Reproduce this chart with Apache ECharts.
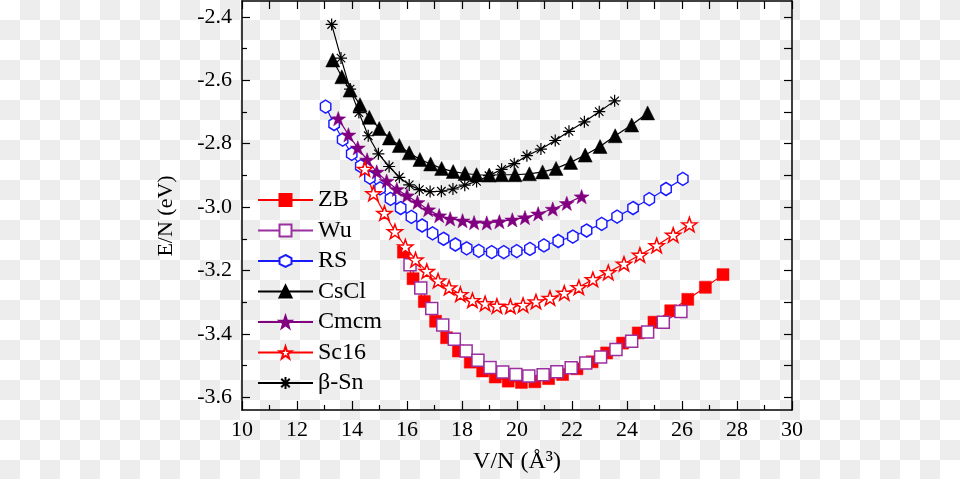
<!DOCTYPE html>
<html>
<head>
<meta charset="utf-8">
<script src="https://cdn.jsdelivr.net/npm/echarts@6/dist/echarts.min.js"></script>
<style>
html,body{margin:0;padding:0;background:#fff}
#c{width:960px;height:479px}
</style>
</head>
<body>
<div id="c"></div>
<script>
// ---- data (V/N in Å^3, E/N in eV) ----
const zbV = [15.87,16.22,16.63,17.04,17.44,17.87,18.30,18.75,19.21,19.68,20.16,20.65,21.15,21.66,22.18,22.73,23.26,23.84,24.41,24.98,25.59,26.21,26.85,27.49];
const zbE = [-3.142,-3.226,-3.298,-3.360,-3.412,-3.454,-3.489,-3.517,-3.536,-3.549,-3.553,-3.551,-3.541,-3.528,-3.510,-3.488,-3.460,-3.429,-3.397,-3.363,-3.327,-3.291,-3.253,-3.213];

const wuV = [16.11,16.50,16.90,17.30,17.72,18.15,18.58,19.02,19.48,19.96,20.43,20.95,21.45,21.97,22.50,23.04,23.60,24.17,24.75,25.32,25.96];
const wuE = [-3.182,-3.255,-3.320,-3.372,-3.417,-3.454,-3.483,-3.506,-3.520,-3.528,-3.533,-3.529,-3.519,-3.507,-3.492,-3.473,-3.449,-3.423,-3.394,-3.363,-3.329];

const rsV = [13.04,13.35,13.66,13.99,14.32,14.65,15.02,15.40,15.77,16.16,16.55,16.93,17.33,17.76,18.17,18.61,19.08,19.52,19.99,20.47,20.98,21.50,22.03,22.53,23.08,23.64,24.22,24.81,25.42,26.03];
const rsE = [-2.683,-2.738,-2.787,-2.832,-2.871,-2.907,-2.941,-2.974,-3.003,-3.031,-3.058,-3.083,-3.100,-3.118,-3.130,-3.138,-3.142,-3.142,-3.139,-3.132,-3.121,-3.107,-3.093,-3.074,-3.053,-3.030,-3.003,-2.975,-2.943,-2.911];

const csV = [13.30,13.63,13.93,14.29,14.63,14.99,15.36,15.72,16.08,16.47,16.86,17.26,17.68,18.11,18.53,18.99,19.44,19.93,20.45,20.93,21.42,21.95,22.48,23.02,23.57,24.17,24.75];
const csE = [-2.536,-2.589,-2.631,-2.677,-2.717,-2.752,-2.782,-2.806,-2.829,-2.850,-2.864,-2.878,-2.888,-2.894,-2.898,-2.899,-2.898,-2.898,-2.895,-2.889,-2.878,-2.859,-2.836,-2.809,-2.775,-2.741,-2.703];

const cmV = [13.50,13.87,14.21,14.55,14.90,15.26,15.63,16.00,16.38,16.77,17.17,17.57,18.02,18.44,18.90,19.36,19.83,20.29,20.77,21.30,21.81,22.35];
const cmE = [-2.721,-2.772,-2.813,-2.851,-2.889,-2.918,-2.944,-2.964,-2.985,-3.008,-3.027,-3.037,-3.043,-3.049,-3.050,-3.046,-3.040,-3.033,-3.021,-3.006,-2.988,-2.967];

const scV = [14.47,14.78,15.18,15.56,15.94,16.31,16.72,17.13,17.53,17.94,18.38,18.84,19.27,19.76,20.22,20.69,21.20,21.72,22.25,22.76,23.32,23.89,24.47,25.08,25.68,26.27];
const scE = [-2.880,-2.957,-3.019,-3.077,-3.125,-3.166,-3.202,-3.232,-3.254,-3.275,-3.294,-3.304,-3.312,-3.313,-3.309,-3.298,-3.287,-3.271,-3.253,-3.228,-3.206,-3.179,-3.151,-3.121,-3.088,-3.055];

const bsV = [13.26,13.60,13.93,14.25,14.59,14.96,15.35,15.72,16.08,16.45,16.84,17.25,17.67,18.10,18.53,18.98,19.44,19.90,20.36,20.87,21.39,21.89,22.45,22.99,23.55];
const bsE = [-2.424,-2.530,-2.628,-2.702,-2.775,-2.832,-2.872,-2.906,-2.930,-2.945,-2.951,-2.950,-2.943,-2.931,-2.919,-2.901,-2.881,-2.863,-2.838,-2.817,-2.790,-2.761,-2.731,-2.699,-2.665];

const seriesNames = ['ZB','Wu','RS','CsCl','Cmcm','Sc16','β-Sn'];
const yMajorTicks = [-3.6,-3.4,-3.2,-3.0,-2.8,-2.6,-2.4];
const yMinorTicks = [-3.5,-3.3,-3.1,-2.9,-2.7,-2.5];
const xTickLabels = [10,12,14,16,18,20,22,24,26,28,30];

// ---- helpers ----
const zip = (a, b) => a.map((v, i) => [v, b[i]]);
const FONT = '"Liberation Serif","Times New Roman",serif';

const HEX = 'path://M0,-1 L0.866,-0.5 L0.866,0.5 L0,1 L-0.866,0.5 L-0.866,-0.5 Z';
const STAR = 'path://M0,-1 L0.235,-0.324 L0.951,-0.309 L0.380,0.124 L0.588,0.809 L0,0.4 L-0.588,0.809 L-0.380,0.124 L-0.951,-0.309 L-0.235,-0.324 Z';
const AST = 'path://M0,-1 L0,1 M-1,0 L1,0 M-0.707,-0.707 L0.707,0.707 M-0.707,0.707 L0.707,-0.707';

// checkerboard backdrop (transparency pattern visible in the reference image)
const W = 960, H = 479, CELL = 20;
const bg = document.createElement('canvas');
bg.width = W; bg.height = H;
const g = bg.getContext('2d');
g.fillStyle = '#ffffff'; g.fillRect(0, 0, W, H);
g.fillStyle = '#ededed';
for (let r = 0; r * CELL < H; r++) {
  for (let c = 0; c * CELL < W; c++) {
    if ((r + c) % 2 === 1) g.fillRect(c * CELL, r * CELL, CELL, CELL);
  }
}

function mk(name, v, e, color, symbol, size, filled, extra) {
  return Object.assign({
    name: name,
    type: 'line',
    data: zip(v, e),
    symbol: symbol,
    symbolSize: size,
    symbolKeepAspect: true,
    showAllSymbol: true,
    lineStyle: { color: color, width: 1.2 },
    itemStyle: filled ? { color: color, borderColor: color, borderWidth: 0.5 }
                      : { color: '#ffffff', borderColor: color, borderWidth: 1.5 },
    emphasis: { disabled: true },
    z: 3
  }, extra || {});
}

const chart = echarts.init(document.getElementById('c'), null, { renderer: 'canvas' });

const axisLine = { show: true, onZero: false, lineStyle: { color: '#000', width: 1.5 } };

chart.setOption({
  animation: false,
  backgroundColor: '#ffffff',
  textStyle: { fontFamily: FONT },
  grid: { left: 242, top: 1, width: 550, height: 409, containLabel: false },
  xAxis: [
    {
      type: 'value', min: 10, max: 30, interval: 2, position: 'bottom',
      axisLine: axisLine,
      axisTick: { show: true, inside: true, length: 9, lineStyle: { color: '#000', width: 1.2 } },
      minorTick: { show: true, splitNumber: 2, length: 5, lineStyle: { color: '#000', width: 1.2 } },
      axisLabel: { show: true, margin: 9, color: '#000', fontSize: 22, fontFamily: FONT,
        formatter: (val) => xTickLabels.indexOf(val) >= 0 ? String(val) : '' },
      splitLine: { show: false },
      name: 'V/N (Å³)', nameLocation: 'middle', nameGap: 40,
      nameTextStyle: { color: '#000', fontSize: 24, fontFamily: FONT }
    },
    {
      type: 'value', min: 10, max: 30, interval: 1, position: 'top',
      axisLine: axisLine,
      axisTick: { show: true, inside: true, length: 8, lineStyle: { color: '#000', width: 1.2 } },
      axisLabel: { show: false },
      splitLine: { show: false }
    }
  ],
  yAxis: [
    {
      type: 'value', min: -3.64, max: -2.35, position: 'left',
      axisLine: axisLine,
      axisTick: { show: true, inside: true, length: 8, customValues: yMajorTicks, lineStyle: { color: '#000', width: 1.2 } },
      axisLabel: { show: true, margin: 10, color: '#000', fontSize: 22, fontFamily: FONT,
        customValues: yMajorTicks, formatter: (val) => val.toFixed(1) },
      splitLine: { show: false }
    },
    {
      type: 'value', min: -3.64, max: -2.35, position: 'left',
      axisLine: { show: false },
      axisTick: { show: true, inside: true, length: 5, customValues: yMinorTicks, lineStyle: { color: '#000', width: 1.2 } },
      axisLabel: { show: false },
      splitLine: { show: false }
    },
    {
      type: 'value', min: -3.64, max: -2.35, position: 'right',
      axisLine: axisLine,
      axisTick: { show: true, inside: true, length: 8, customValues: yMajorTicks.concat(yMinorTicks), lineStyle: { color: '#000', width: 1.2 } },
      axisLabel: { show: false },
      splitLine: { show: false }
    }
  ],
  legend: {
    orient: 'vertical', left: 257, top: 185, padding: 0,
    itemWidth: 55, itemHeight: 15, itemGap: 0.5,
    textStyle: { color: '#000', fontSize: 24, fontFamily: FONT, lineHeight: 30 },
    data: seriesNames
  },
  graphic: [
    { type: 'image', left: 0, top: 0, z: -100, zlevel: 0, silent: true,
      style: { image: bg, x: 0, y: 0, width: W, height: H } },
    { type: 'text', x: 166, y: 216, rotation: Math.PI / 2,
      style: { text: 'E/N (eV)', font: '22px "Liberation Serif"', fill: '#000',
               textAlign: 'center', textVerticalAlign: 'middle' } }
  ],
  series: [
    mk('ZB',   zbV, zbE, '#ff0000', 'rect', 12, true),
    mk('Wu',   wuV, wuE, '#9a2fa0', 'rect', 12, false),
    mk('RS',   rsV, rsE, '#1a1aff', HEX, [12, 13], false),
    mk('CsCl', csV, csE, '#000000', 'triangle', 14, true),
    mk('Cmcm', cmV, cmE, '#800080', STAR, 15, true),
    mk('Sc16', scV, scE, '#ff0000', STAR, 15, false),
    mk('β-Sn', bsV, bsE, '#000000', AST, 12, false,
       { itemStyle: { color: '#000', borderColor: '#000', borderWidth: 1.2 } })
  ]
});
</script>
</body>
</html>
